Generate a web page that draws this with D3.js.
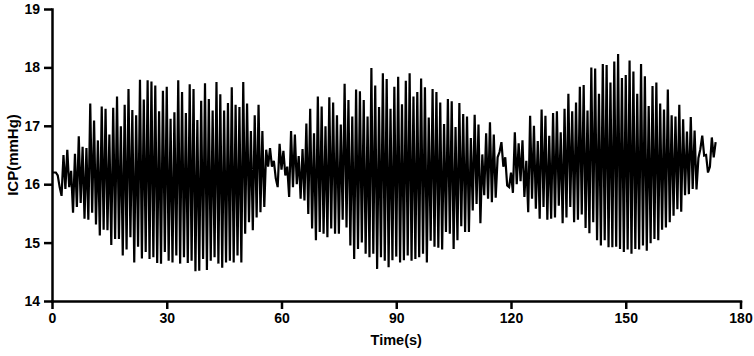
<!DOCTYPE html>
<html>
<head>
<meta charset="utf-8">
<script src="https://cdn.jsdelivr.net/npm/d3@7"></script>
<style>
  body { margin: 0; background: #fff; }
  text { font-family: "Liberation Sans", Arial, sans-serif; font-weight: bold; }
</style>
</head>
<body>
<svg width="754" height="356"></svg>
<script>
// ICP trace, sampled every 0.5 s (peak / trough alternate inside the bursts)
const sampleStep = 0.5;

// t 0 - 2.5 s
const lead = [16.2, 16.2, 16.2, 16.15, 15.95, 15.8];

// burst 1: peaks t 3 - 56, troughs t 3.5 - 55.5
const burst1Peaks = [16.50, 16.59, 16.23, 16.52, 16.82, 16.64, 16.62, 17.38, 17.09, 16.75,
  17.33, 17.29, 16.85, 17.31, 17.50, 16.99, 17.36, 17.63, 17.27, 17.18,
  17.79, 17.45, 17.78, 17.76, 17.69, 17.25, 17.60, 17.67, 17.12, 17.23,
  17.78, 17.58, 17.22, 17.71, 17.63, 17.10, 17.43, 17.73, 17.46, 17.26,
  17.75, 17.54, 17.26, 17.39, 17.66, 17.36, 17.32, 17.75, 17.38, 16.91,
  17.18, 17.36, 16.91, 16.59];
const burst1Troughs = [15.92, 15.95, 15.51, 15.61, 15.68, 15.41, 15.39, 15.51, 15.31, 15.12,
  15.22, 15.21, 14.96, 15.06, 15.06, 14.78, 14.88, 15.09, 14.66, 14.93,
  14.73, 14.84, 14.72, 14.75, 14.65, 14.64, 14.84, 14.69, 14.66, 14.78,
  14.64, 14.75, 14.65, 14.69, 14.51, 14.52, 14.72, 14.53, 14.69, 14.75,
  14.64, 14.57, 14.66, 14.69, 14.66, 14.78, 14.66, 15.15, 15.35, 15.21,
  15.43, 15.52, 15.61];

// t 56.5 - 62
const pause1 = [16.3, 16.62, 16.3, 16.4, 16.1, 15.95, 16.69, 16.25, 16.57, 16.15, 16.3, 15.78];

// burst 2: peaks t 62.5 - 116.5, troughs t 63 - 116
const burst2Peaks = [16.91, 16.85, 16.48, 16.6, 17.04, 17.29, 16.87, 17.5, 17.33, 16.99,
  17.49, 17.40, 17.18, 17.02, 17.72, 17.44, 17.16, 17.62, 17.59, 17.44,
  17.16, 17.99, 17.69, 17.32, 17.90, 17.80, 17.29, 17.67, 17.84, 17.37,
  17.77, 17.90, 17.50, 17.58, 17.81, 17.66, 17.14, 17.63, 17.58, 17.40,
  17.03, 17.46, 17.42, 16.98, 17.39, 17.20, 17.16, 16.79, 17.19, 17.02,
  16.51, 16.87, 17.06, 16.85, 16.46];
const burst2Troughs = [15.95, 16.0, 15.75, 15.72, 15.49, 15.24, 15.04, 15.18, 15.15, 15.09,
  15.24, 15.15, 15.15, 15.39, 15.26, 14.95, 14.72, 14.89, 15.0, 14.81,
  14.75, 14.81, 14.55, 14.75, 14.69, 14.58, 14.70, 14.76, 14.66, 14.70,
  14.78, 14.69, 14.72, 14.75, 14.81, 14.66, 15.03, 14.93, 14.91, 14.88,
  15.18, 15.15, 14.89, 15.04, 15.28, 15.18, 15.18, 15.55, 15.66, 15.33,
  15.81, 15.75, 15.69, 15.77];

// t 117 - 124.5
const pause2 = [16.55, 16.72, 16.3, 16.46, 15.98, 15.95, 16.2, 15.85,
  16.89, 16.0, 16.70, 16.05, 16.75, 15.78, 16.4, 15.52];

// burst 3: peaks t 125 - 168, troughs t 125.5 - 168.5
const burst3Peaks = [17.17, 17.0, 16.74, 17.28, 17.17, 16.83, 17.22, 17.25, 16.89, 17.29,
  17.55, 17.25, 17.40, 17.67, 17.70, 17.26, 18.0, 17.98, 17.55, 18.06,
  18.04, 17.74, 18.10, 18.23, 17.82, 17.87, 18.12, 17.93, 17.55, 18.06,
  17.85, 17.34, 17.68, 17.74, 17.38, 17.28, 17.62, 17.18, 17.16, 17.36,
  17.11, 16.90, 17.15, 16.92];
const burst3Troughs = [15.75, 15.58, 15.41, 15.61, 15.39, 15.41, 15.43, 15.63, 15.33, 15.43,
  15.61, 15.35, 15.39, 15.48, 15.25, 15.16, 15.35, 15.04, 14.95, 15.04,
  14.92, 14.92, 14.93, 14.89, 14.84, 14.88, 14.81, 14.89, 14.88, 14.95,
  14.86, 14.99, 15.06, 15.04, 15.22, 15.26, 15.35, 15.46, 15.57, 15.53,
  15.81, 15.83, 15.92, 15.91];

// t 169 - 173.5
const tail = [16.45, 16.6, 16.83, 16.49, 16.5, 16.2, 16.3, 16.8, 16.46, 16.72];

const xTicks = [0, 30, 60, 90, 120, 150, 180];
const yTicks = [14, 15, 16, 17, 18, 19];

// put the pieces back together in time order
const icp = [];
const addPulses = (peaks, troughs) => {
  peaks.forEach((p, i) => {
    icp.push(p);
    if (i < troughs.length) icp.push(troughs[i]);
  });
};
icp.push(...lead);
addPulses(burst1Peaks, burst1Troughs);
icp.push(...pause1);
addPulses(burst2Peaks, burst2Troughs);
icp.push(...pause2);
addPulses(burst3Peaks, burst3Troughs);
icp.push(...tail);

const data = icp.map((v, i) => ({ t: i * sampleStep, v: v }));

const svg = d3.select("svg");

const xScale = d3.scaleLinear().domain([0, 180]).range([52, 740.5]);
const yScale = d3.scaleLinear().domain([14, 19]).range([301, 9]);

const line = d3.line()
  .x(d => xScale(d.t))
  .y(d => yScale(d.v));

svg.append('path')
  .datum(data)
  .attr('fill', 'none')
  .attr('stroke', '#000')
  .attr('stroke-width', 2.2)
  .attr('stroke-linejoin', 'miter')
  .attr('d', line);

const xAxis = svg.append('g')
  .attr('transform', `translate(0,${yScale(14)})`)
  .call(d3.axisBottom(xScale).tickValues(xTicks).tickFormat(d3.format('d'))
    .tickSize(8).tickSizeOuter(0).tickPadding(4));

const yAxis = svg.append('g')
  .attr('transform', `translate(${xScale(0)},0)`)
  .call(d3.axisLeft(yScale).tickValues(yTicks).tickFormat(d3.format('d'))
    .tickSize(8).tickSizeOuter(0).tickPadding(4));

[xAxis, yAxis].forEach(a => {
  a.select('.domain').attr('stroke-width', 2.5).attr('stroke-linecap', 'square');
  a.selectAll('.tick line').attr('stroke-width', 2.5);
  a.selectAll('.tick text').attr('font-size', 14).attr('fill', '#000');
});

svg.append('text')
  .attr('x', (xScale(0) + xScale(180)) / 2)
  .attr('y', 345)
  .attr('text-anchor', 'middle')
  .attr('font-size', 14.5)
  .text('Time(s)');

svg.append('text')
  .attr('transform', `translate(18,${(yScale(14) + yScale(19)) / 2}) rotate(-90)`)
  .attr('text-anchor', 'middle')
  .attr('font-size', 15)
  .text('ICP(mmHg)');
</script>
</body>
</html>
